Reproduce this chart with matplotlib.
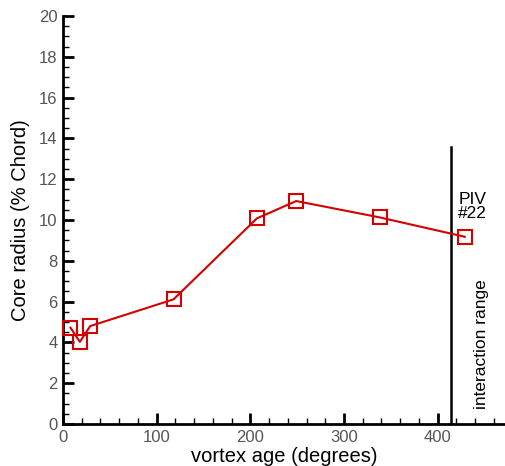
import matplotlib
matplotlib.use("Agg")
import matplotlib.pyplot as plt
from matplotlib.ticker import MultipleLocator

plt.rcParams["font.family"] = ["Liberation Sans", "DejaVu Sans"]

# vortex age (deg) vs. core radius (% chord)
vortex_age = [8, 18, 29, 118, 207, 249, 338, 429]
core_radius = [4.72, 4.03, 4.8, 6.11, 10.08, 10.93, 10.13, 9.18]

# start of the blade/vortex interaction range
interaction_age = 414
interaction_top = 13.6

LINE_COLOR = "#d40000"

fig = plt.figure(figsize=(5.06, 4.66), dpi=100)
ax = fig.add_axes([0.1245, 0.0901, 0.8755, 0.8755])

ax.plot(vortex_age, core_radius, color=LINE_COLOR, lw=1.5,
        marker="s", markersize=9.5, markerfacecolor="none",
        markeredgecolor=LINE_COLOR, markeredgewidth=1.5, clip_on=False,
        zorder=3)

ax.plot([interaction_age, interaction_age], [0, interaction_top],
        color="black", lw=1.8, zorder=2)

ax.text(422, 9.95, "PIV\n#22", fontsize=12.5, color="black",
        ha="left", va="bottom", linespacing=0.9)
ax.text(447, 0.75, "interaction range", fontsize=12.5, color="black",
        rotation=90, ha="center", va="bottom")

ax.set_xlim(0, 473)
ax.set_ylim(0, 20)
ax.xaxis.set_major_locator(MultipleLocator(100))
ax.xaxis.set_minor_locator(MultipleLocator(20))
ax.yaxis.set_major_locator(MultipleLocator(2))
ax.yaxis.set_minor_locator(MultipleLocator(0.5))

for side in ("top", "right"):
    ax.spines[side].set_visible(False)
for side in ("left", "bottom"):
    ax.spines[side].set_linewidth(2)

ax.tick_params(which="major", direction="in", length=8, width=2,
               labelsize=12, labelcolor="#555555", pad=4)
ax.tick_params(which="minor", direction="in", length=4, width=1)

ax.set_xlabel("vortex age (degrees)", fontsize=14.5, labelpad=2)
ax.set_ylabel("Core radius (% Chord)", fontsize=14.5, labelpad=6)

fig.savefig("out.png", dpi=100)
